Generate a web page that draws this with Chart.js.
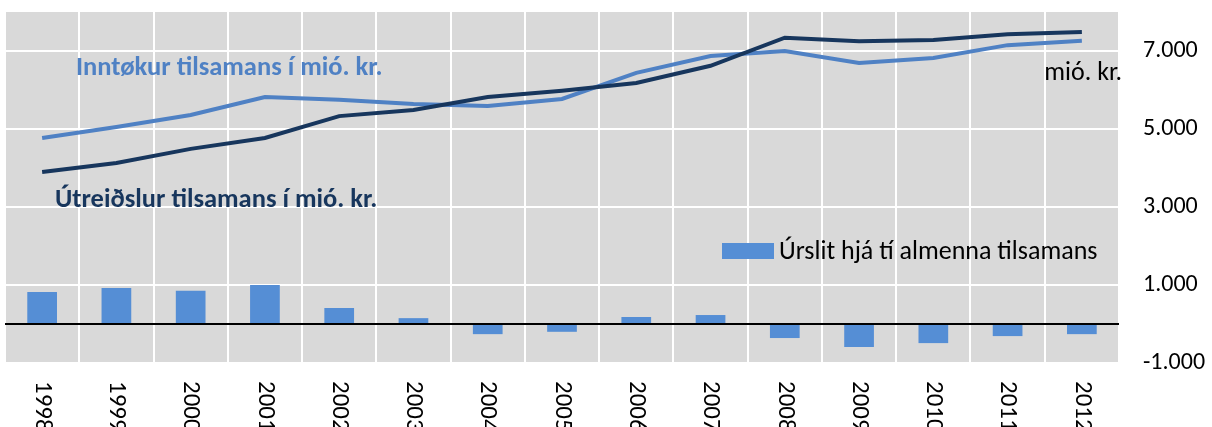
<!DOCTYPE html>
<html>
<head>
<meta charset="utf-8">
<script src="https://cdn.jsdelivr.net/npm/chart.js@4"></script>
<style>
  html, body { margin: 0; padding: 0; background: #fff; }
  #wrap { width: 1212px; height: 427px; }
</style>
</head>
<body>
<div id="wrap"><canvas id="chart" width="1212" height="427"></canvas></div>
<script>
// years on the x axis
const years = ['1998','1999','2000','2001','2002','2003','2004','2005','2006','2007','2008','2009','2010','2011','2012'];
// income, mió. kr.
const inntokur = [4770, 5050, 5360, 5820, 5750, 5640, 5590, 5770, 6440, 6870, 7000, 6690, 6820, 7150, 7260];
// expenditure, mió. kr.
const utreidslur = [3900, 4130, 4490, 4770, 5330, 5490, 5820, 5980, 6180, 6620, 7340, 7250, 7280, 7430, 7490];
// result of the general government
const urslit = [820, 920, 850, 1000, 410, 150, -260, -200, 180, 230, -360, -590, -490, -310, -260];
const yTicks = [-1000, 1000, 3000, 5000, 7000];

const FONT = 'Carlito, Lato, "Liberation Sans", sans-serif';
const lightLine = '#4F81C4';
const darkLine = '#17365D';
const barColor = '#558ED5';

const fmt = v => {
  const s = Math.abs(v).toString().replace(/\B(?=(\d{3})+(?!\d))/g, '.');
  return (v < 0 ? '-' : '') + s;
};

const decor = {
  id: 'decor',
  beforeDraw(chart) {
    const {ctx, chartArea: a} = chart;
    ctx.save();
    ctx.fillStyle = '#D9D9D9';
    ctx.fillRect(a.left, a.top, a.right - a.left, a.bottom - a.top);
    ctx.restore();
  },
  afterDatasetsDraw(chart) {
    const {ctx, chartArea: a, scales} = chart;
    ctx.save();
    // zero line
    const y0 = scales.y.getPixelForValue(0);
    ctx.strokeStyle = '#000';
    ctx.lineWidth = 2;
    ctx.beginPath();
    ctx.moveTo(a.left, y0);
    ctx.lineTo(a.right, y0);
    ctx.stroke();
    ctx.restore();
  },
  afterDraw(chart) {
    const {ctx, chartArea: a, scales} = chart;
    ctx.save();
    // x labels, rotated clockwise
    ctx.fillStyle = '#000';
    ctx.font = '25px ' + FONT;
    ctx.textAlign = 'left';
    ctx.textBaseline = 'middle';
    years.forEach((yr, i) => {
      const x = scales.x.getPixelForTick(i);
      ctx.save();
      ctx.translate(x, a.bottom + 18);
      ctx.rotate(Math.PI / 2);
      ctx.fillText(yr, 0, 0);
      ctx.restore();
    });
    // series captions
    ctx.font = 'bold 26.5px ' + FONT;
    ctx.textBaseline = 'middle';
    ctx.fillStyle = lightLine;
    ctx.fillText('Inntøkur tilsamans í mió. kr.', a.left + 71, a.top + 56);
    ctx.fillStyle = darkLine;
    ctx.fillText('Útreiðslur tilsamans í mió. kr.', a.left + 50, a.top + 188);
    // legend for bars
    ctx.fillStyle = barColor;
    ctx.fillRect(a.left + 717, a.top + 231, 52, 16);
    ctx.fillStyle = '#000';
    ctx.font = '26px ' + FONT;
    ctx.fillText('Úrslit hjá tí almenna tilsamans', a.left + 774, a.top + 240);
    // unit
    ctx.textAlign = 'right';
    ctx.fillText('mió. kr.', a.right + 3, a.top + 61);
    ctx.restore();
  }
};

const chart = new Chart(document.getElementById('chart'), {
  type: 'bar',
  data: {
    labels: years,
    datasets: [
      {
        type: 'line',
        label: 'Útreiðslur tilsamans í mió. kr.',
        data: utreidslur,
        borderColor: darkLine,
        borderWidth: 4,
        pointRadius: 0,
        tension: 0,
        order: 1
      },
      {
        type: 'line',
        label: 'Inntøkur tilsamans í mió. kr.',
        data: inntokur,
        borderColor: lightLine,
        borderWidth: 4,
        pointRadius: 0,
        tension: 0,
        order: 2
      },
      {
        label: 'Úrslit hjá tí almenna tilsamans',
        data: urslit,
        backgroundColor: barColor,
        categoryPercentage: 0.8,
        barPercentage: 0.5,
        order: 3
      }
    ]
  },
  options: {
    responsive: false,
    animation: false,
    layout: { padding: { left: 5, top: 12, right: 0, bottom: 0 } },
    plugins: { legend: { display: false }, tooltip: { enabled: false } },
    scales: {
      x: {
        offset: true,
        grid: { color: '#fff', lineWidth: 2, offset: true, drawTicks: false },
        border: { display: false },
        ticks: { display: false },
        afterFit: s => { s.height = 64; s.paddingLeft = 0; s.paddingRight = 0; }
      },
      y: {
        position: 'right',
        min: -1000,
        max: 8000,
        afterBuildTicks: s => { s.ticks = yTicks.map(v => ({value: v})); },
        grid: { color: '#fff', lineWidth: 2, drawTicks: false },
        border: { display: false },
        ticks: {
          padding: 24,
          color: '#000',
          font: { family: FONT, size: 24 },
          callback: v => fmt(v)
        },
        afterFit: s => { s.width = 93; s.paddingTop = 0; s.paddingBottom = 0; }
      }
    }
  },
  plugins: [decor]
});
</script>
</body>
</html>
